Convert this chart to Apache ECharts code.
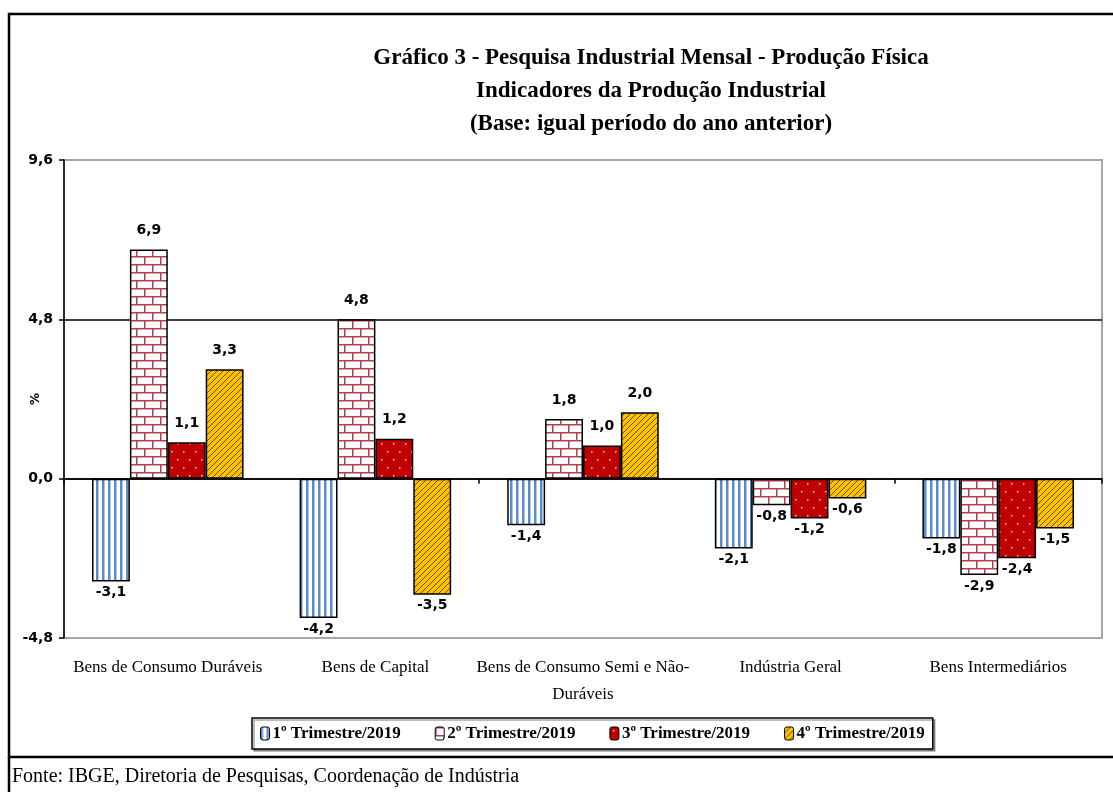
<!DOCTYPE html>
<html>
<head>
<meta charset="utf-8">
<script src="https://cdn.jsdelivr.net/npm/echarts@6/dist/echarts.min.js"></script>
<style>
  html, body { margin: 0; padding: 0; background: #fff; }
  #chart { width: 1113px; height: 792px; }
</style>
</head>
<body>
<div id="chart"></div>
<script>
const categories = ['Bens de Consumo Duráveis', 'Bens de Capital', 'Bens de Consumo Semi e Não-\nDuráveis', 'Indústria Geral', 'Bens Intermediários'];
const seriesNames = ['1º Trimestre/2019', '2º Trimestre/2019', '3º Trimestre/2019', '4º Trimestre/2019'];
const q1 = [-3.1, -4.2, -1.4, -2.1, -1.8];
const q2 = [6.9, 4.8, 1.8, -0.8, -2.9];
const q3 = [1.1, 1.2, 1.0, -1.2, -2.4];
const q4 = [3.3, -3.5, 2.0, -0.6, -1.5];
const yTicks = [-4.8, 0, 4.8, 9.6];

const chart = echarts.init(document.getElementById('chart'));

// fill patterns like the excel ones
function makeTile(w, h, draw) {
    const c = document.createElement('canvas');
    c.width = w; c.height = h;
    draw(c.getContext('2d'));
    return { image: c, repeat: 'repeat' };
}
const stripes = makeTile(6, 6, ctx => {
    ctx.fillStyle = '#fff'; ctx.fillRect(0, 0, 6, 6);
    ctx.fillStyle = '#5a8bcb'; ctx.fillRect(0, 0, 2.5, 6);
});
const bricks = makeTile(16, 16, ctx => {
    ctx.fillStyle = '#fff'; ctx.fillRect(0, 0, 16, 16);
    ctx.fillStyle = '#b5404a';
    ctx.fillRect(0, 0, 16, 1.5);
    ctx.fillRect(0, 8, 16, 1.5);
    ctx.fillRect(0, 0, 1.5, 8);
    ctx.fillRect(8, 8, 1.5, 8);
});
const dots = makeTile(12, 16, ctx => {
    ctx.fillStyle = '#c00000'; ctx.fillRect(0, 0, 12, 16);
    ctx.fillStyle = '#ffd0d0';
    ctx.fillRect(3, 3, 1.5, 1.5);
    ctx.fillRect(9, 11, 1.5, 1.5);
});
const hatch = makeTile(6, 6, ctx => {
    ctx.fillStyle = '#ffc000'; ctx.fillRect(0, 0, 6, 6);
    ctx.strokeStyle = '#6b5200'; ctx.lineWidth = 1;
    ctx.beginPath();
    ctx.moveTo(-1, 7); ctx.lineTo(7, -1);
    ctx.moveTo(-1, 1); ctx.lineTo(1, -1);
    ctx.moveTo(5, 7); ctx.lineTo(7, 5);
    ctx.stroke();
});
const fills = [stripes, bricks, dots, hatch];

const fmt = v => v.toFixed(1).replace('.', ',');
const labelFont = { fontFamily: 'DejaVu Sans', fontWeight: 'bold', fontSize: 14, color: '#000' };
const serif = 'Liberation Serif';

function makeSeries(name, values, i) {
    return {
        name: name,
        type: 'bar',
        xAxisIndex: 0,
        barGap: '0%',
        barCategoryGap: '27%',
        itemStyle: { color: fills[i], borderColor: '#000', borderWidth: 1.5 },
        label: Object.assign({ show: true, formatter: p => fmt(p.value) }, labelFont),
        data: values.map(v => ({
            value: v,
            label: v < 0 ? { position: 'bottom', distance: 4 } : { position: 'top', distance: 12 }
        }))
    };
}

const option = {
    animation: false,
    title: {
        text: 'Gráfico 3 - Pesquisa Industrial Mensal - Produção Física\nIndicadores da Produção Industrial\n(Base: igual período do ano anterior)',
        left: 646,
        top: 37,
        textAlign: 'center',
        textStyle: { fontFamily: serif, fontWeight: 'bold', fontSize: 23, lineHeight: 33, color: '#000' }
    },
    legend: {
        data: seriesNames,
        left: 252,
        top: 718,
        itemWidth: 9,
        itemHeight: 13,
        itemGap: 34,
        padding: [7, 8],
        borderColor: '#000',
        borderWidth: 1.5,
        backgroundColor: '#fff',
        shadowColor: 'rgba(0,0,0,0.35)',
        shadowOffsetX: 2,
        shadowOffsetY: 2,
        itemStyle: { borderColor: '#000', borderWidth: 1 },
        textStyle: { fontFamily: serif, fontWeight: 'bold', fontSize: 17, color: '#000', padding: [0, 0, 0, -2] }
    },
    grid: {
        left: 64, right: 11, top: 160, bottom: 154,
        outerBoundsMode: 'none',
        show: true, borderColor: '#a6a6a6', borderWidth: 2
    },
    xAxis: [
        {
            type: 'category',
            data: categories,
            position: 'bottom',
            axisLine: { show: false, onZero: false },
            axisTick: { show: false },
            axisLabel: { interval: 0, margin: 16, fontFamily: serif, fontSize: 17, lineHeight: 27, color: '#000' }
        },
        {
            type: 'category',
            data: categories,
            position: 'top',
            axisLine: { show: true, onZero: true, lineStyle: { color: '#000', width: 1.5 } },
            axisTick: { show: true, inside: true, length: 5, lineStyle: { color: '#000', width: 1.5 } },
            axisLabel: { show: false }
        }
    ],
    yAxis: {
        type: 'value',
        min: yTicks[0],
        max: yTicks[yTicks.length - 1],
        interval: 4.8,
        name: '%',
        nameLocation: 'middle',
        nameGap: 22,
        nameRotate: 90,
        nameMoveOverlap: false,
        nameTextStyle: { fontFamily: 'DejaVu Sans', fontWeight: 'bold', fontSize: 12, color: '#000' },
        axisLine: { show: true, lineStyle: { color: '#000', width: 1.5 } },
        axisTick: { show: true, length: 5, lineStyle: { color: '#000', width: 1.5 } },
        axisLabel: Object.assign({ margin: 11, formatter: v => fmt(v) }, labelFont),
        splitLine: { show: true, lineStyle: { color: ['#a6a6a6', '#000', '#000', '#a6a6a6'], width: 1.5 } }
    },
    graphic: [
        { type: 'rect', shape: { x: 9, y: 14, width: 1120, height: 743 }, style: { fill: null, stroke: '#000', lineWidth: 2.5 }, z: -1 },
        { type: 'line', shape: { x1: 9, y1: 757, x2: 9, y2: 792 }, style: { stroke: '#000', lineWidth: 2.5 } },
        { type: 'text', left: 12, top: 767, style: { text: 'Fonte: IBGE, Diretoria de Pesquisas, Coordenação de Indústria', font: '20px "Liberation Serif"', fill: '#000' } }
    ],
    series: [
        makeSeries(seriesNames[0], q1, 0),
        makeSeries(seriesNames[1], q2, 1),
        makeSeries(seriesNames[2], q3, 2),
        makeSeries(seriesNames[3], q4, 3)
    ]
};

chart.setOption(option);
window.addEventListener('resize', chart.resize);
</script>
</body>
</html>
